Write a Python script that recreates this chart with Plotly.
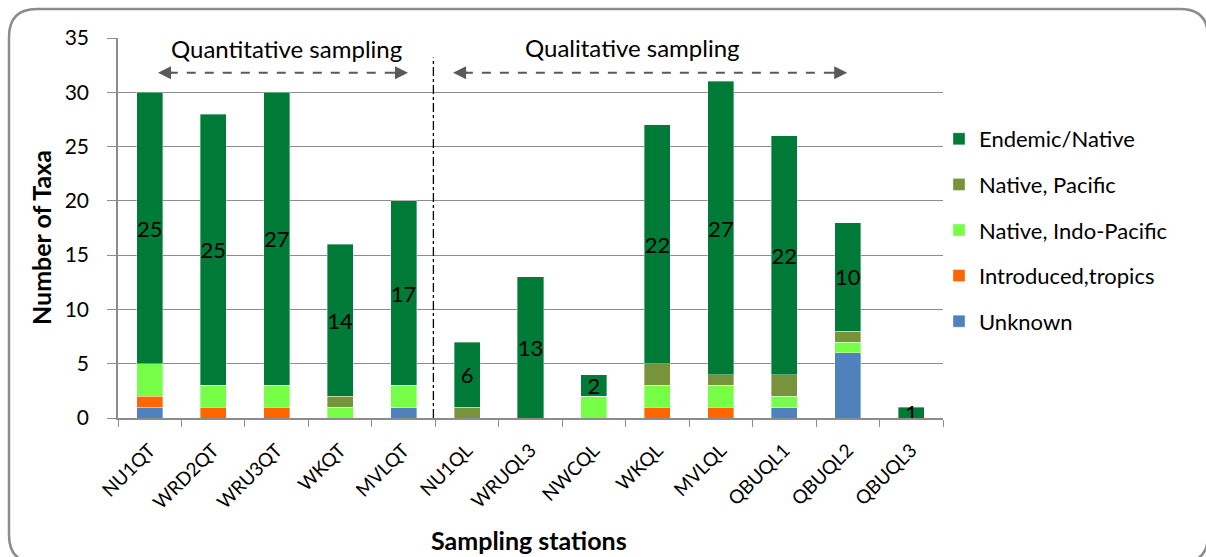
import plotly.graph_objects as go

# Sampling stations and taxa counts per origin class
stations = ["NU1QT", "WRD2QT", "WRU3QT", "WKQT", "MVLQT",
            "NU1QL", "WRUQL3", "NWCQL", "WKQL", "MVLQL",
            "QBUQL1", "QBUQL2", "QBUQL3"]
unknown = [1, 0, 0, 0, 1, 0, 0, 0, 0, 0, 1, 6, 0]
introduced = [1, 1, 1, 0, 0, 0, 0, 0, 1, 1, 0, 0, 0]
indo_pacific = [3, 2, 2, 1, 2, 0, 0, 2, 2, 2, 1, 1, 0]
pacific = [0, 0, 0, 1, 0, 1, 0, 0, 2, 1, 2, 1, 0]
endemic = [25, 25, 27, 14, 17, 6, 13, 2, 22, 27, 22, 10, 1]

y_ticks = [0, 5, 10, 15, 20, 25, 30, 35]

FONT = "Lato"
# (name, values, colour, labelled, legend rank)
series = [
    ("Unknown", unknown, "#4F81BD", False, 5),
    ("Introduced,tropics", introduced, "#FF6600", False, 4),
    ("Native, Indo-Pacific", indo_pacific, "#77FF47", False, 3),
    ("Native, Pacific", pacific, "#77933C", False, 2),
    ("Endemic/Native", endemic, "#007A37", True, 1),
]

fig = go.Figure()
for name, vals, color, labelled, rank in series:
    fig.add_trace(go.Bar(
        x=stations, y=vals, name=name, legendgroup=name, legendrank=rank,
        marker=dict(color=color, line=dict(color="rgba(255,255,255,0.6)", width=0.6)),
        text=[str(v) for v in vals] if labelled else None,
        textposition="inside" if labelled else "none",
        insidetextanchor="middle", textangle=0,
        textfont=dict(family=FONT, size=22, color="black"),
        hoverinfo="skip",
    ))

# layout geometry (pixels)
W, H = 1206, 557
L, R, T, B = 118, 263, 38, 139
pw, ph = W - L - R, H - T - B


def px(x):
    return (x - L) / pw


def py(y):
    return (H - B - y) / ph


# rounded outer frame (runs slightly past the right and bottom edges)
x0, y0, x1, y1, r = px(9), py(9), px(1208), py(563), 28 / pw
ry = 28 / ph
frame = (f"M {x0 + r},{y0} L {x1 - r},{y0} Q {x1},{y0} {x1},{y0 - ry} "
         f"L {x1},{y1 + ry} Q {x1},{y1} {x1 - r},{y1} L {x0 + r},{y1} "
         f"Q {x0},{y1} {x0},{y1 + ry} L {x0},{y0 - ry} Q {x0},{y0} {x0 + r},{y0} Z")

shapes = [
    dict(type="path", path=frame, xref="paper", yref="paper",
         line=dict(color="#8C8C8C", width=2.5), layer="below"),
    # divider between quantitative and qualitative stations
    dict(type="line", xref="x", yref="y", x0=4.47, x1=4.47, y0=0, y1=33.2,
         line=dict(color="black", width=1.3, dash="dashdot")),
    # dashed arrow shafts
    dict(type="line", xref="x", yref="y", x0=0.3, x1=3.9, y0=31.8, y1=31.8,
         line=dict(color="#595959", width=2, dash="dash")),
    dict(type="line", xref="x", yref="y", x0=4.95, x1=10.82, y0=31.8, y1=31.8,
         line=dict(color="#595959", width=2, dash="dash")),
]

annotations = [
    dict(x=2.15, y=34.0, xref="x", yref="y", text="Quantitative sampling",
         showarrow=False, font=dict(family=FONT, size=24, color="black")),
    dict(x=7.6, y=34.1, xref="x", yref="y", text="Qualitative sampling",
         showarrow=False, font=dict(family=FONT, size=24, color="black")),
    dict(x=px(529), y=py(540), xref="paper", yref="paper",
         xanchor="center", yanchor="middle",
         text="<b>Sampling stations</b>", showarrow=False,
         font=dict(family=FONT, size=25, color="black")),
    dict(x=px(41), y=py(238), xref="paper", yref="paper",
         xanchor="center", yanchor="middle",
         text="<b>Number of Taxa</b>", showarrow=False, textangle=-90,
         font=dict(family=FONT, size=25, color="black")),
]
# arrow heads
for xt, dx in [(0.13, 16), (4.07, -16), (4.78, 16), (10.99, -16)]:
    annotations.append(dict(
        x=xt, y=31.8, xref="x", yref="y", ax=dx, ay=0, text="",
        showarrow=True, arrowhead=2, arrowsize=1.3, arrowwidth=2,
        arrowcolor="#595959", standoff=0))

fig.update_layout(
    barmode="stack", bargap=0.59,
    width=W, height=H,
    margin=dict(l=L, r=R, t=T, b=B),
    paper_bgcolor="white", plot_bgcolor="white",
    font=dict(family=FONT, size=18, color="black"),
    uniformtext=dict(minsize=22, mode="show"),
    shapes=shapes, annotations=annotations,
    legend=dict(x=px(939), y=py(118), xanchor="left", yanchor="top",
                traceorder="grouped", tracegroupgap=14,
                font=dict(family=FONT, size=22, color="black"),
                itemwidth=30, bgcolor="rgba(0,0,0,0)"),
    xaxis=dict(
        tickangle=-45, tickfont=dict(family=FONT, size=19),
        showline=True, linecolor="#8C8C8C", linewidth=1.5,
        ticks="outside", tickson="boundaries", ticklen=7, tickcolor="#8C8C8C",
        ticklabelstandoff=12,
        showgrid=False, range=[-0.5, 12.5],
    ),
    yaxis=dict(
        range=[0, 35], tickvals=y_ticks,
        showline=True, linecolor="#8C8C8C", linewidth=1.5,
        ticks="outside", ticklen=9, tickcolor="#8C8C8C", ticklabelstandoff=14,
        showgrid=True, gridcolor="#8C8C8C", gridwidth=1.2,
        zeroline=False, tickfont=dict(family=FONT, size=21),
    ),
)

fig.write_html("out.html")
